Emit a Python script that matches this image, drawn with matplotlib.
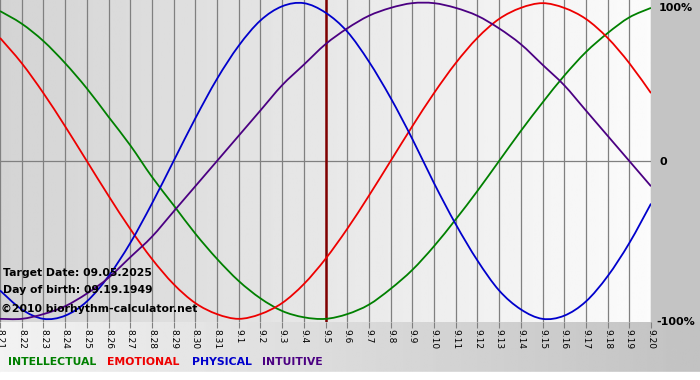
import numpy as np
import matplotlib.pyplot as plt
from matplotlib.path import Path
from matplotlib.patches import PathPatch

# days shown, 8.21 .. 9.20
days = ['8.21', '8.22', '8.23', '8.24', '8.25', '8.26', '8.27', '8.28', '8.29', '8.30', '8.31',
        '9.1', '9.2', '9.3', '9.4', '9.5', '9.6', '9.7', '9.8', '9.9', '9.10',
        '9.11', '9.12', '9.13', '9.14', '9.15', '9.16', '9.17', '9.18', '9.19', '9.20']
target_idx = 15  # 9.5

intellectual = [0.95, 0.87, 0.76, 0.62, 0.46, 0.28, 0.10, -0.10, -0.28, -0.46, -0.62,
                -0.76, -0.87, -0.95, -0.99, -1.00, -0.97, -0.91, -0.81, -0.69, -0.54,
                -0.37, -0.19, 0.00, 0.19, 0.37, 0.54, 0.69, 0.81, 0.91, 0.97]
emotional = [0.78, 0.62, 0.43, 0.22, 0.00, -0.22, -0.43, -0.62, -0.78, -0.90, -0.97,
             -1.00, -0.97, -0.90, -0.78, -0.62, -0.43, -0.22, 0.00, 0.22, 0.43,
             0.62, 0.78, 0.90, 0.97, 1.00, 0.97, 0.90, 0.78, 0.62, 0.43]
physical = [-0.82, -0.94, -1.00, -0.98, -0.89, -0.73, -0.52, -0.27, 0.00, 0.27, 0.52,
            0.73, 0.89, 0.98, 1.00, 0.94, 0.82, 0.63, 0.40, 0.14, -0.14,
            -0.40, -0.63, -0.82, -0.94, -1.00, -0.98, -0.89, -0.73, -0.52, -0.27]
intuitive = [-1.00, -1.00, -0.97, -0.92, -0.84, -0.74, -0.61, -0.48, -0.32, -0.16, 0.00,
             0.16, 0.32, 0.48, 0.61, 0.74, 0.84, 0.92, 0.97, 1.00, 1.00,
             0.97, 0.92, 0.84, 0.74, 0.61, 0.48, 0.32, 0.16, 0.00, -0.16]

series = [('INTELLECTUAL', intellectual, '#008000'),
          ('EMOTIONAL', emotional, '#ee0000'),
          ('PHYSICAL', physical, '#0000cc'),
          ('INTUITIVE', intuitive, '#4b0082')]


def smooth_path(xs, ys):
    # catmull-rom style bezier through the daily points
    p = np.column_stack([xs, ys]).astype(float)
    pp = np.vstack([p[0], p, p[-1]])
    verts = [p[0]]
    codes = [Path.MOVETO]
    for i in range(len(p) - 1):
        a, b, c, d = pp[i], pp[i + 1], pp[i + 2], pp[i + 3]
        verts += [b + (c - a) / 6, c - (d - b) / 6, c]
        codes += [Path.CURVE4] * 3
    return Path(verts, codes)


W, H = 700, 380
fig = plt.figure(figsize=(7, 3.8), dpi=100)

# background panel in pixel coords
bg = fig.add_axes([0, 0, 1, 1])
bg.set_xlim(0, W)
bg.set_ylim(H, 0)
bg.axis('off')
bg.add_patch(plt.Rectangle((0, 0), W, H, color='#c4c4c4', zorder=0))
grad = np.linspace(0.95, 0.76, 256).reshape(1, -1)
bg.imshow(grad, cmap='gray', vmin=0, vmax=1, extent=[0, W, 372, 322], aspect='auto', zorder=1)
bg.add_patch(plt.Rectangle((0, 372), W, 8, color='white', zorder=2))

ax = fig.add_axes([0, (H - 322) / H, 651 / W, 322 / H])
x = np.arange(len(days))
ax.set_xlim(0, len(days) - 1)
ax.set_ylim(-1.02, 1.02)
pg = np.linspace(0.83, 0.985, 256).reshape(1, -1)
ax.imshow(pg, cmap='gray', vmin=0, vmax=1, extent=[0, 30, -1.02, 1.02], aspect='auto', zorder=0)

for xi in x:
    ax.axvline(xi, color='#808080', lw=0.9, zorder=1)
ax.axhline(0, color='#808080', lw=0.9, zorder=1)
ax.axvline(target_idx, color='#800000', lw=1.8, zorder=2)

for name, vals, col in series:
    ax.add_patch(PathPatch(smooth_path(x, vals), facecolor='none', edgecolor=col,
                           lw=1.3, zorder=3, clip_on=True))

for s in ax.spines.values():
    s.set_visible(False)
ax.set_yticks([])
ax.set_xticks(x)
ax.set_xticklabels(days, rotation=-90, fontsize=6.5, family='DejaVu Sans')
ax.tick_params(axis='x', length=4, color='#808080', pad=1)

bold = dict(fontsize=7.8, fontweight='bold', family='DejaVu Sans', color='black')
ax.text(3, 276, 'Target Date: 09.05.2025', transform=bg.transData, **bold, zorder=5)
ax.text(3, 293, 'Day of birth: 09.19.1949', transform=bg.transData, **bold, zorder=5)
ax.text(1, 312, '\u00a92010 biorhythm-calculator.net', transform=bg.transData, **bold, zorder=5)

bg.text(659, 8, '100%', va='center', ha='left', fontsize=8, fontweight='bold', zorder=5)
bg.text(659, 162, '0', va='center', ha='left', fontsize=8, fontweight='bold', zorder=5)
bg.text(656, 322, '-100%', va='center', ha='left', fontsize=8, fontweight='bold', zorder=5)

lx = [8, 107, 192, 262]
for (name, vals, col), xx in zip(series, lx):
    bg.text(xx, 362, name, color=col, fontsize=7.8, fontweight='bold', va='center', ha='left', zorder=5)

fig.savefig('out.png', dpi=100)
